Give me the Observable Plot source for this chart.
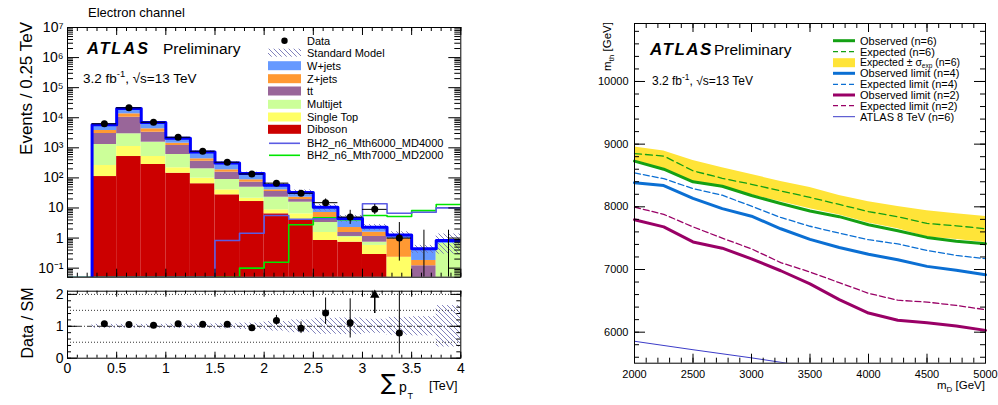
<!DOCTYPE html>
<html>
<head>
<meta charset="utf-8">
<title>Black hole search: electron channel and threshold-mass limits</title>
<script src="https://cdn.jsdelivr.net/npm/d3@7"></script>
<script src="https://cdn.jsdelivr.net/npm/@observablehq/plot@0.6"></script>
<style>
  html, body { margin: 0; padding: 0; background: #fff; }
  #page { position: relative; width: 998px; height: 405px; overflow: hidden;
          font-family: "Liberation Sans", Arial, Helvetica, sans-serif; }
  .panel { position: absolute; }
  #overlay { position: absolute; left: 0; top: 0; pointer-events: none; }
</style>
</head>
<body>
<svg width="0" height="0" style="position:absolute">
  <defs>
    <pattern id="smHatch" patternUnits="userSpaceOnUse" width="5" height="5">
      <path d="M-1,-1 L6,6 M-1,4 L1,6 M4,-1 L6,1" stroke="#7474b4" stroke-width="0.9" fill="none"/>
    </pattern>
  </defs>
</svg>
<div id="page">
  <div id="hist" class="panel" style="left:0;top:0;width:470px;height:280px"></div>
  <div id="ratio" class="panel" style="left:0;top:283px;width:470px;height:122px"></div>
  <div id="limits" class="panel" style="left:590px;top:0;width:408px;height:405px"></div>
  <svg id="overlay" width="998" height="405"></svg>
</div>
<script>
const FONT = "Liberation Sans, Arial, Helvetica, sans-serif";

// ---------- Electron channel: sum pT spectrum, 0.25 TeV bins ----------
const binLow = [0.25, 0.5, 0.75, 1.0, 1.25, 1.5, 1.75, 2.0, 2.25, 2.5, 2.75, 3.0, 3.25, 3.5, 3.75];
const binWidth = 0.25;
const dataEvents = [6300, 21400, 7100, 2250, 773, 333, 135, 67, 31, 15, 5, 9, 1, 0, 0];

// background processes, stacked bottom to top
const diboson   = [111, 514, 279, 143, 64, 27.4, 16.4, 6.4, 4.05, 0.83, 0.73, 0.284, 0.02, 0, 0];
const singleTop = [147, 593, 235, 74, 34, 12.8, 4.7, 2.3, 2.35, 0.7, 0.31, 0.286, 0.21, 0, 0];
const multijet  = [1032, 1823, 1026, 383, 103, 48.3, 28, 14.1, 9.2, 1.76, 0.09, 0.16, 0, 0, 0.66];
const ttbar     = [1700, 7470, 1760, 595, 158, 66.5, 23, 12.5, 3.5, 1.18, 0.4, 0.4, 0, 0.12, 0];
const zJets     = [780, 3100, 990, 230, 73, 31, 14.5, 4.9, 3.7, 2.6, 0.71, 0.44, 0.735, 0.06, 0];
const wJets     = [2060, 6700, 2600, 655, 297, 128, 54.5, 16.6, 10.2, 3.5, 2.26, 0.73, 0.305, 0.26, 0.17];
const smRelUnc  = [0.06, 0.06, 0.06, 0.07, 0.07, 0.08, 0.1, 0.15, 0.2, 0.25, 0.26, 0.22, 0.28, 0.3, 0.65];

// benchmark black-hole signals
const bhMth6000MD4000 = [0, 0, 0, 0, 0, 0.83, 1.45, 5.6, 4.2, 4.4, 4.4, 13.8, 6.7, 7.2, 10.1];
const bhMth7000MD2000 = [0, 0, 0, 0, 0, 0, 0.10, 0.157, 2.76, 4.7, 4.05, 5.6, 5.2, 8.2, 13.1];

const layerNames  = ["Diboson", "Single Top", "Multijet", "tt", "Z+jets", "W+jets"];
const layerValues = [diboson, singleTop, multijet, ttbar, zJets, wJets];
const layerColors = ["#cc0000", "#ffff66", "#ccff99", "#996699", "#ff9933", "#6699ff"];

// 68% Poisson interval (Wilson-Hilferty form of the Garwood interval)
function poissonLow(n) { if (n === 0) return 0; const a = 1 - 1 / (9 * n) - 1 / (3 * Math.sqrt(n)); return n * a * a * a; }
function poissonUp(n) { const m = n + 1; const a = 1 - 1 / (9 * m) + 1 / (3 * Math.sqrt(m)); return m * a * a * a; }

const Y_MIN = 0.05, Y_MAX = 1e7;

const bins = binLow.map((lo, i) => {
  const total = layerValues.reduce((s, l) => s + l[i], 0);
  const n = dataEvents[i];
  return { lo, hi: lo + binWidth, mid: lo + binWidth / 2, total, unc: smRelUnc[i], data: n,
           dLo: poissonLow(n), dUp: poissonUp(n), ratio: n / total,
           rLo: poissonLow(n) / total, rUp: poissonUp(n) / total };
});

const stackRows = [];
bins.forEach((b, i) => {
  let base = 0;
  layerValues.forEach((vals, j) => {
    const v = vals[i];
    if (v > 0) stackRows.push({ x1: b.lo, x2: b.hi, y1: Math.max(base, 1e-4), y2: base + v, process: layerNames[j] });
    base += v;
  });
});

function stepVertices(values, x0) {
  const pts = [{ x: x0, y: Y_MIN }];
  values.forEach((v, i) => {
    const y = Math.max(v, Y_MIN);
    pts.push({ x: binLow[i], y }, { x: binLow[i] + binWidth, y });
  });
  return pts;
}
const smOutline = stepVertices(bins.map(b => b.total), binLow[0]);

const SUP = { "-": "\u207B", "0": "\u2070", "1": "\u00B9", "2": "\u00B2", "3": "\u00B3", "4": "\u2074",
              "5": "\u2075", "6": "\u2076", "7": "\u2077", "8": "\u2078", "9": "\u2079" };
const decades = [0.1, 1, 10, 100, 1e3, 1e4, 1e5, 1e6, 1e7];
function powerLabel(d) {
  const e = Math.round(Math.log10(d));
  if (e === 0) return "1";
  if (e === 1) return "10";
  return "10" + String(e).split("").map(c => SUP[c]).join("");
}
const logMinor = decades.flatMap(d => [2, 3, 4, 5, 6, 7, 8, 9].map(m => m * d / 10)).filter(v => v >= Y_MIN && v < Y_MAX);
const xMinor = d3.range(0, 41).map(i => i / 10);
const xMajor = [0, 0.5, 1, 1.5, 2, 2.5, 3, 3.5, 4];

// inward tick marks on all four sides of a frame
function frameTicks(fw, fh, xs, ys) {
  const marks = [];
  for (const [vals, len] of xs) {
    marks.push(Plot.tickX(vals, { x: d => d, insetTop: fh - len, stroke: "black" }));
    marks.push(Plot.tickX(vals, { x: d => d, insetBottom: fh - len, stroke: "black" }));
  }
  for (const [vals, len] of ys) {
    marks.push(Plot.tickY(vals, { y: d => d, insetRight: fw - len, stroke: "black" }));
    marks.push(Plot.tickY(vals, { y: d => d, insetLeft: fw - len, stroke: "black" }));
  }
  return marks;
}

// ---------- upper panel: events per bin ----------
const hW = 470, hH = 280, hL = 67, hR = 9.7, hT = 27, hB = 3.3;
const hFW = hW - hL - hR, hFH = hH - hT - hB;
const withData = bins.filter(b => b.data > 0);

const hist = Plot.plot({
  width: hW, height: hH, marginLeft: hL, marginRight: hR, marginTop: hT, marginBottom: hB,
  style: { fontFamily: FONT, fontSize: "14px", background: "transparent", color: "black" },
  x: { domain: [0, 4], axis: null },
  y: { type: "log", domain: [Y_MIN, Y_MAX], ticks: decades, tickFormat: powerLabel,
       tickSize: 0, tickPadding: 4, label: null },
  color: { domain: layerNames, range: layerColors },
  marks: [
    Plot.rect(stackRows, { x1: "x1", x2: "x2", y1: "y1", y2: "y2", fill: "process", clip: true }),
    Plot.rect(bins, { x1: "lo", x2: "hi", y1: d => d.total * (1 - d.unc), y2: d => d.total * (1 + d.unc),
                      fill: "url(#smHatch)", clip: true }),
    Plot.line(stepVertices(bhMth7000MD2000, 0), { x: "x", y: "y", stroke: "#00e600", strokeWidth: 1.6, clip: true }),
    Plot.line(stepVertices(bhMth6000MD4000, 0), { x: "x", y: "y", stroke: "#5b5be3", strokeWidth: 1.6, clip: true }),
    Plot.line(smOutline, { x: "x", y: "y", stroke: "#0000ff", strokeWidth: 3, clip: true }),
    Plot.ruleX(bins, { x: "mid", y1: d => Math.max(d.dLo, Y_MIN), y2: "dUp", stroke: "black", clip: true }),
    Plot.ruleY(withData, { y: "data", x1: "lo", x2: "hi", stroke: "black" }),
    Plot.dot(withData, { x: "mid", y: "data", r: 3.5, fill: "black" }),
    ...frameTicks(hFW, hFH, [[xMinor, 4], [xMajor, 8]], [[logMinor, 6], [decades, 12]]),
    Plot.frame({ stroke: "black" })
  ]
});
document.getElementById("hist").append(hist);

// ---------- lower panel: data / SM ----------
const rW = 470, rH = 122, rL = 67, rR = 9.7, rT = 7.7, rFH = 67;
const rB = rH - rT - rFH, rFW = rW - rL - rR;
const R_MAX = 2.1;
const ratioPts = bins.filter(b => b.data > 0 && b.ratio <= R_MAX);
const ratioOff = bins.filter(b => b.data > 0 && b.ratio > R_MAX);

const ratio = Plot.plot({
  width: rW, height: rH, marginLeft: rL, marginRight: rR, marginTop: rT, marginBottom: rB,
  style: { fontFamily: FONT, fontSize: "14px", background: "transparent", color: "black" },
  x: { domain: [0, 4], ticks: xMajor, tickFormat: d => String(d), tickSize: 0, tickPadding: 5, label: null },
  y: { domain: [0, R_MAX], ticks: [0, 1, 2], tickFormat: d => String(d), tickSize: 0, tickPadding: 4, label: null },
  marks: [
    Plot.rect(bins, { x1: "lo", x2: "hi", y1: d => 1 - d.unc, y2: d => 1 + d.unc, fill: "url(#smHatch)", clip: true }),
    Plot.ruleY([0.5, 1.5, 2], { stroke: "#333", strokeDasharray: "1,2" }),
    Plot.ruleY([1], { stroke: "#333", strokeDasharray: "5,2,1,2" }),
    Plot.ruleX(ratioPts, { x: "mid", y1: "rLo", y2: d => Math.min(d.rUp, R_MAX), stroke: "black", clip: true }),
    Plot.dot(ratioPts, { x: "mid", y: "ratio", r: 3.5, fill: "black" }),
    Plot.ruleX(ratioOff, { x: "mid", y1: 1.4, y2: 1.95, stroke: "black", strokeWidth: 1.5 }),
    Plot.dot(ratioOff, { x: "mid", y: 1.98, symbol: "triangle", r: 3.5, fill: "black" }),
    ...frameTicks(rFW, rFH, [[xMinor, 3], [xMajor, 6]],
                  [[d3.range(0, 11).map(i => i / 5), 4], [[0, 1, 2], 10]]),
    Plot.frame({ stroke: "black" })
  ]
});
document.getElementById("ratio").append(ratio);

// ---------- right panel: lower limits on M_th vs M_D ----------
const mD        = [2000, 2250, 2500, 2750, 3000, 3250, 3500, 3750, 4000, 4250, 4500, 4750, 5000];
const obsN6     = [8730, 8600, 8400, 8328, 8180, 8053, 7933, 7843, 7714, 7617, 7512, 7451, 7411];
const expN6     = [8850, 8810, 8575, 8455, 8360, 8254, 8150, 8038, 7924, 7842, 7735, 7697, 7651];
const expN6Up   = [8955, 8890, 8740, 8625, 8515, 8405, 8310, 8180, 8082, 8005, 7937, 7890, 7847];
const expN6Down = [8725, 8610, 8400, 8300, 8190, 8080, 7970, 7870, 7740, 7650, 7520, 7480, 7430];
const obsN4     = [8385, 8340, 8135, 7972, 7850, 7650, 7480, 7350, 7243, 7155, 7050, 6989, 6917];
const expN4     = [8540, 8450, 8290, 8185, 8010, 7830, 7690, 7580, 7475, 7408, 7305, 7225, 7172];
const obsN2     = [7795, 7680, 7440, 7340, 7170, 6980, 6770, 6520, 6305, 6190, 6150, 6100, 6029];
const expN2     = [7995, 7880, 7680, 7500, 7330, 7110, 6960, 6790, 6620, 6510, 6480, 6427, 6359];
const mD8TeV    = [2000, 2500, 3000, 3500];
const atlas8TeV = [5855, 5720, 5590, 5450];

const GREEN = "#14a014", BLUE = "#0b6fd3", PURPLE = "#990066", OLD = "#3c3cc8", BAND = "#ffe438";
const series = (xs, ys) => xs.map((x, i) => ({ x, y: ys[i] }));
const band = mD.map((x, i) => ({ x, lo: expN6Down[i], hi: expN6Up[i] }));

const lW = 408, lH = 405, lL = 44, lR = 13, lT = 23, lB = 42.3;
const lFW = lW - lL - lR, lFH = lH - lT - lB;

const limits = Plot.plot({
  width: lW, height: lH, marginLeft: lL, marginRight: lR, marginTop: lT, marginBottom: lB,
  style: { fontFamily: FONT, fontSize: "11px", background: "transparent", color: "black" },
  x: { domain: [2000, 5000], ticks: [2000, 2500, 3000, 3500, 4000, 4500, 5000], tickFormat: d => String(d),
       tickSize: 0, tickPadding: 7, label: null },
  y: { domain: [5505, 10925], ticks: [6000, 7000, 8000, 9000, 10000], tickFormat: d => String(d),
       tickSize: 0, tickPadding: 6, label: null },
  marks: [
    Plot.areaY(band, { x: "x", y1: "lo", y2: "hi", fill: BAND }),
    Plot.line(series(mD8TeV, atlas8TeV), { x: "x", y: "y", stroke: OLD, strokeWidth: 1, clip: true }),
    Plot.line(series(mD, expN2), { x: "x", y: "y", stroke: PURPLE, strokeWidth: 1.3, strokeDasharray: "6,3" }),
    Plot.line(series(mD, obsN2), { x: "x", y: "y", stroke: PURPLE, strokeWidth: 3 }),
    Plot.line(series(mD, expN4), { x: "x", y: "y", stroke: BLUE, strokeWidth: 1.3, strokeDasharray: "6,3" }),
    Plot.line(series(mD, obsN4), { x: "x", y: "y", stroke: BLUE, strokeWidth: 3 }),
    Plot.line(series(mD, expN6), { x: "x", y: "y", stroke: GREEN, strokeWidth: 1.3, strokeDasharray: "7,4" }),
    Plot.line(series(mD, obsN6), { x: "x", y: "y", stroke: GREEN, strokeWidth: 3 }),
    ...frameTicks(lFW, lFH,
      [[d3.range(2000, 5001, 100), 5], [[2000, 2500, 3000, 3500, 4000, 4500, 5000], 9]],
      [[d3.range(5600, 10925, 200), 5], [[6000, 7000, 8000, 9000, 10000], 11]]),
    Plot.frame({ stroke: "black" })
  ]
});
document.getElementById("limits").append(limits);

// ---------- titles, axis titles and legends ----------
const ov = d3.select("#overlay").attr("font-family", FONT);

function label(x, y, s, size, opts = {}) {
  const t = ov.append("text").attr("x", x).attr("y", y).attr("font-size", size).attr("fill", "black");
  if (opts.anchor) t.attr("text-anchor", opts.anchor);
  if (opts.weight) t.attr("font-weight", opts.weight);
  if (opts.style) t.attr("font-style", opts.style);
  if (opts.spacing) t.attr("letter-spacing", opts.spacing);
  if (opts.rotate) t.attr("transform", `rotate(${opts.rotate},${x},${y})`);
  if (s !== null) t.text(s);
  return t;
}
function lumiLabel(x, y, size) {
  const t = label(x, y, null, size);
  t.append("tspan").text("3.2 fb");
  t.append("tspan").attr("dy", -size * 0.42).attr("font-size", size * 0.7).text("-1");
  t.append("tspan").attr("dy", size * 0.42).text(", \u221As=13 TeV");
}

// left panel
label(88, 16.5, "Electron channel", 13);
label(32, 22, "Events / 0.25 TeV", 17, { anchor: "end", rotate: -90 });
label(33, 323, "Data / SM", 16, { anchor: "middle", rotate: -90 });
label(87, 54, "ATLAS", 16.5, { weight: "bold", style: "italic", spacing: 1.8 });
label(163, 54, "Preliminary", 15.5);
lumiLabel(83, 82.5, 13.5);
{
  const t = label(0, 0, null, 14);
  t.append("tspan").attr("x", 381).attr("y", 390).attr("font-size", 22).attr("font-family", "DejaVu Sans").text("\u2211");
  t.append("tspan").attr("x", 399).attr("y", 392).text("p");
  t.append("tspan").attr("x", 407.5).attr("y", 399).attr("font-size", 9).text("T");
  t.append("tspan").attr("x", 429).attr("y", 390).attr("font-size", 12.5).text("[TeV]");
}

const legL = [
  { name: "Data", kind: "dot" },
  { name: "Standard Model", kind: "hatch" },
  { name: "W+jets", kind: "box", color: layerColors[5] },
  { name: "Z+jets", kind: "box", color: layerColors[4] },
  { name: "tt", kind: "box", color: layerColors[3] },
  { name: "Multijet", kind: "box", color: layerColors[2] },
  { name: "Single Top", kind: "box", color: layerColors[1] },
  { name: "Diboson", kind: "box", color: layerColors[0] },
  { name: "BH2_n6_Mth6000_MD4000", kind: "line", color: "#5b5be3" },
  { name: "BH2_n6_Mth7000_MD2000", kind: "line", color: "#00e600" }
];
const legLRows = [40.7, 52.7, 65.7, 78.7, 91, 104.3, 117, 129.3, 143.3, 155.3];
legL.forEach((e, i) => {
  const cy = legLRows[i];
  if (e.kind === "dot") ov.append("circle").attr("cx", 284.5).attr("cy", cy).attr("r", 3.2).attr("fill", "black");
  if (e.kind === "hatch") ov.append("rect").attr("x", 268).attr("y", cy - 4).attr("width", 33).attr("height", 8).attr("fill", "url(#smHatch)");
  if (e.kind === "box") ov.append("rect").attr("x", 268).attr("y", cy - 4.5).attr("width", 33).attr("height", 9).attr("fill", e.color);
  if (e.kind === "line") ov.append("line").attr("x1", 269).attr("x2", 300).attr("y1", cy).attr("y2", cy).attr("stroke", e.color).attr("stroke-width", 1.6);
  label(307, cy + 4, e.name, 11);
});

// right panel
label(650, 55, "ATLAS", 17, { weight: "bold", style: "italic", spacing: 1.5 });
label(714, 55, "Preliminary", 15.5);
lumiLabel(652, 85, 12);
{
  const t = label(611, 22, null, 11.5, { anchor: "end", rotate: -90 });
  t.append("tspan").text("m");
  t.append("tspan").attr("dy", 3).attr("font-size", 8).text("th");
  t.append("tspan").attr("dy", -3).text(" [GeV]");
}
{
  const t = label(985, 389, null, 11.5, { anchor: "end" });
  t.append("tspan").text("m");
  t.append("tspan").attr("dy", 3).attr("font-size", 8).text("D");
  t.append("tspan").attr("dy", -3).text(" [GeV]");
}

const legR = [
  { name: "Observed (n=6)", color: GREEN, w: 3 },
  { name: "Expected (n=6)", color: GREEN, w: 1.3, dash: "5,3" },
  { name: "band", color: BAND },
  { name: "Observed limit (n=4)", color: BLUE, w: 3 },
  { name: "Expected limit (n=4)", color: BLUE, w: 1.3, dash: "5,3" },
  { name: "Observed limit (n=2)", color: PURPLE, w: 3 },
  { name: "Expected limit (n=2)", color: PURPLE, w: 1.3, dash: "5,3" },
  { name: "ATLAS 8 TeV (n=6)", color: OLD, w: 1 }
];
const legRRows = [40.7, 51.7, 62.7, 73.3, 84.3, 95, 105.7, 116.7];
legR.forEach((e, i) => {
  const cy = legRRows[i];
  if (e.name === "band") {
    ov.append("rect").attr("x", 833).attr("y", cy - 4.5).attr("width", 22).attr("height", 9).attr("fill", e.color);
    const t = label(860, cy + 3.5, null, 10.5);
    t.append("tspan").text("Expected \u00B1 \u03C3");
    t.append("tspan").attr("dy", 1.5).attr("font-size", 6.5).text("exp");
    t.append("tspan").attr("dy", -1.5).text(" (n=6)");
  } else {
    const l = ov.append("line").attr("x1", 833).attr("x2", 855).attr("y1", cy).attr("y2", cy)
      .attr("stroke", e.color).attr("stroke-width", e.w);
    if (e.dash) l.attr("stroke-dasharray", e.dash);
    label(860, cy + 4, e.name, 11);
  }
});
</script>
</body>
</html>
